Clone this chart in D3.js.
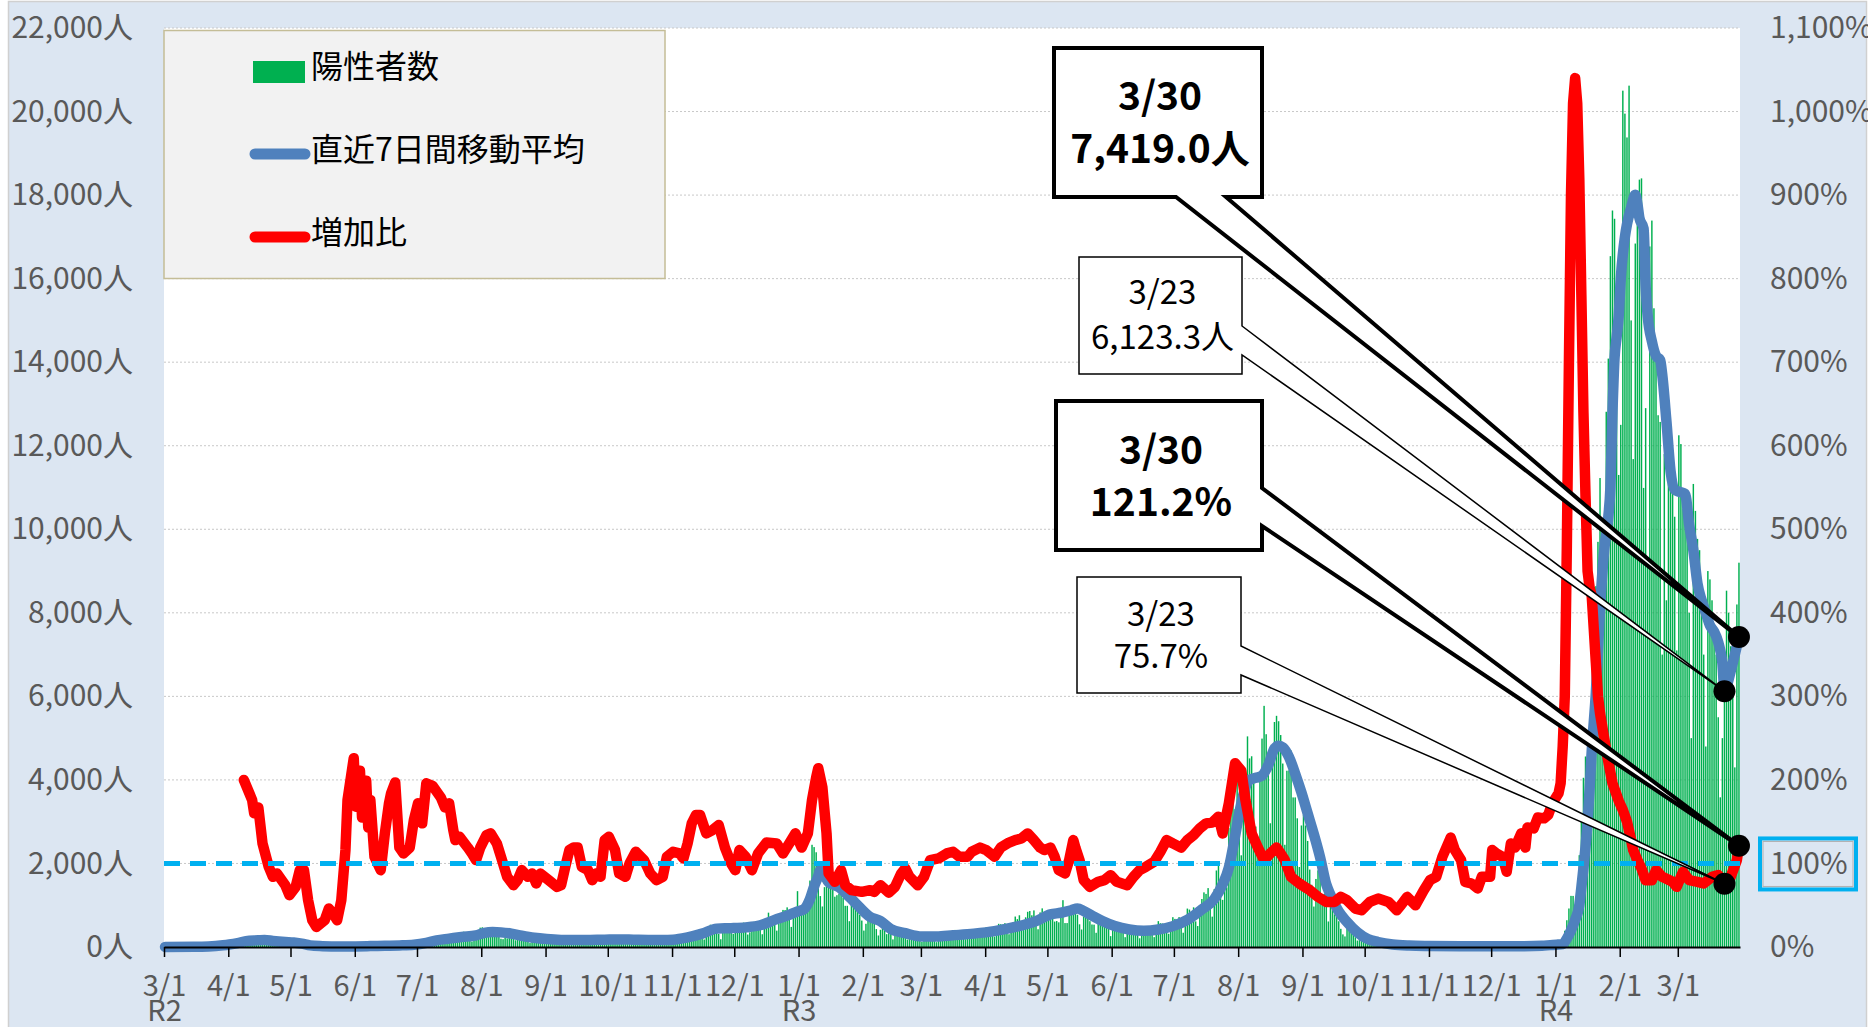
<!doctype html>
<html>
<head>
<meta charset="utf-8">
<script src="https://d3js.org/d3.v7.min.js"></script>
<style>
  body { margin: 0; background: #fff; }
  svg { display: block; font-family: "Liberation Sans Narrow", "Arial Narrow", "Noto Sans CJK JP", sans-serif; }
  .grid line { stroke: #c8c8c8; stroke-width: 1; stroke-dasharray: 2,2; }
  .legend text { font-family: "Noto Sans CJK JP", sans-serif; font-size: 32px; fill: #000; }
  .callout text { fill: #000; text-anchor: middle; dominant-baseline: central; }
</style>
</head>
<body>
<svg width="1868" height="1027"></svg>
<script>
// daily positive counts, 2020-03-01 .. 2022-03-30
var cases2020 = [
  0,1,2,1,8,3,6,2,0,2,7,2,3,5,2,1,3,2,11,1,7,2,16,17,41,47,40,63,68,13,78,
  66,97,89,118,143,83,80,144,181,189,197,166,91,161,127,149,201,181,107,102,123,132,134,161,103,72,39,112,47,46,
  165,160,91,87,58,38,23,39,36,22,15,28,10,30,9,14,5,10,5,5,11,3,2,14,8,10,11,15,22,14,5,
  34,12,34,28,20,26,14,13,12,18,22,25,24,47,48,27,16,41,35,39,35,29,31,55,48,54,57,60,58,54,
  67,107,124,131,111,102,75,75,224,243,206,206,119,143,165,286,293,290,188,168,237,238,366,260,295,239,131,266,250,367,463,
  472,292,258,309,263,360,462,429,331,197,188,222,206,389,385,260,161,207,186,339,258,247,212,95,182,236,250,226,248,148,100,
  170,141,210,211,181,116,80,170,149,276,187,146,146,77,163,163,191,220,218,170,107,88,59,195,270,195,218,78,194,196,
  235,196,207,143,78,176,179,287,186,235,146,78,166,177,284,185,235,124,78,139,150,185,186,203,124,102,158,170,221,218,209,
  116,87,209,122,269,242,294,189,157,293,317,393,374,352,255,180,298,493,534,522,539,391,314,186,401,481,570,561,418,311,
  372,500,533,449,584,480,299,352,572,602,595,621,480,305,460,678,822,664,736,556,392,563,748,888,884,949,708,481,856,944,1337
];
var cases2021 = [
  783,814,816,884,1278,1591,2447,2392,2268,1494,1219,970,1433,1502,2044,1809,1592,1204,1240,1274,1471,1175,986,986,618,1026,973,1064,868,769,633,
  393,556,676,734,577,639,429,276,412,490,434,307,369,371,182,378,445,353,353,327,272,178,275,213,340,270,337,329,
  121,232,316,279,301,237,237,116,290,340,335,304,239,175,181,300,409,323,303,342,256,187,337,420,394,376,430,313,234,364,414,
  475,440,446,355,249,399,555,545,537,570,421,306,510,591,729,667,759,543,405,711,843,861,759,876,635,425,828,925,629,698,
  879,708,708,609,621,591,907,1121,573,573,925,969,1010,854,772,543,419,732,766,843,618,539,535,340,743,689,614,684,539,449,260,
  471,487,508,472,436,351,235,369,440,439,436,467,304,209,337,501,452,453,388,376,236,435,619,570,562,534,386,317,476,714,
  673,660,716,518,342,593,920,896,822,950,614,502,830,1149,1308,1271,1410,1008,727,1387,1832,1979,1359,1128,1763,1429,2848,3177,3865,3300,4058,
  3058,2195,4166,4228,5042,4515,4566,4066,2884,2612,4200,4989,5773,5094,4295,2962,4377,5386,5534,5405,5074,4392,2447,4220,4228,4704,3581,3581,3081,1915,2909,
  3168,2909,2539,1853,1490,968,1629,1834,1675,1242,1273,1067,611,1004,1052,782,862,617,435,302,253,537,531,383,382,235,154,267,248,218,
  200,196,161,87,149,146,138,82,74,60,49,41,77,62,66,66,40,29,36,41,36,26,32,19,17,36,21,23,24,22,9,
  9,29,22,19,17,21,16,9,23,24,20,27,20,6,7,11,17,21,21,20,14,14,10,12,21,12,20,11,11,9,
  18,15,14,21,9,8,16,19,23,20,20,20,11,17,21,22,25,16,16,11,18,31,37,35,47,37,39,39,76,64,78
];
var cases2022 = [
  79,84,103,151,390,641,922,1224,1223,871,962,2198,3124,4051,4561,4172,3126,5185,7377,8638,9699,11227,9468,8503,12813,14086,16538,17631,17433,15895,11300,
  12500,20500,19950,19380,20620,15000,11680,16840,17500,18370,18400,10990,12900,9300,16770,17390,15290,14200,12730,12570,7000,11800,8300,11300,12400,11100,10300,7100,
  12250,12040,10500,10400,9800,8000,5000,11085,10440,9770,9500,8600,7000,4800,9000,8800,8300,7300,7000,5500,3583,5000,7000,8530,8000,7200,6000,4300,8200,9200
];

// 直近7日間移動平均
var avgPoints = [
  ["2020-03-01",3],["2020-03-15",5],["2020-03-22",12],["2020-03-29",40],["2020-04-01",60],["2020-04-05",95],
  ["2020-04-09",140],["2020-04-15",160],["2020-04-18",170],["2020-04-22",145],["2020-04-28",120],["2020-05-02",110],
  ["2020-05-06",80],["2020-05-10",40],["2020-05-16",20],["2020-05-24",9],["2020-06-01",14],["2020-06-08",22],
  ["2020-06-15",30],["2020-06-22",38],["2020-06-29",55],["2020-07-05",100],["2020-07-10",160],["2020-07-16",200],
  ["2020-07-22",240],["2020-07-29",280],["2020-08-02",340],["2020-08-06",360],["2020-08-10",350],["2020-08-15",320],
  ["2020-08-20",270],["2020-08-26",220],["2020-09-01",190],["2020-09-08",170],["2020-09-15",165],["2020-09-22",170],
  ["2020-09-29",175],["2020-10-06",180],["2020-10-13",175],["2020-10-20",170],["2020-10-27",170],["2020-11-01",175],
  ["2020-11-08",230],["2020-11-15",320],["2020-11-22",440],["2020-11-29",450],["2020-12-06",470],["2020-12-13",520],
  ["2020-12-20",650],["2020-12-26",750],["2020-12-31",850],["2021-01-03",900],["2021-01-06",1150],["2021-01-08",1450],
  ["2021-01-10",1700],["2021-01-11",1840],["2021-01-13",1720],["2021-01-15",1550],["2021-01-20",1430],["2021-01-25",1200],
  ["2021-01-28",1050],["2021-02-04",720],["2021-02-09",620],["2021-02-14",430],["2021-02-21",330],["2021-03-01",250],
  ["2021-03-08",250],["2021-03-16",280],["2021-03-26",320],["2021-04-05",380],["2021-04-15",480],["2021-04-25",620],
  ["2021-05-02",780],["2021-05-07",820],["2021-05-12",880],["2021-05-15",920],["2021-05-18",860],["2021-05-22",750],
  ["2021-05-27",620],["2021-06-02",500],["2021-06-09",420],["2021-06-16",390],["2021-06-23",420],["2021-06-30",500],
  ["2021-07-07",650],["2021-07-14",900],["2021-07-20",1150],["2021-07-24",1500],["2021-07-27",1900],["2021-07-30",2650],
  ["2021-08-01",3200],["2021-08-03",3650],["2021-08-06",4000],["2021-08-09",4050],["2021-08-12",4100],["2021-08-15",4350],
  ["2021-08-18",4750],["2021-08-20",4820],["2021-08-22",4780],["2021-08-25",4550],["2021-08-28",4150],["2021-08-31",3700],
  ["2021-09-03",3200],["2021-09-06",2700],["2021-09-09",2150],["2021-09-12",1500],["2021-09-14",1250],["2021-09-18",850],
  ["2021-09-22",600],["2021-09-27",350],["2021-10-02",190],["2021-10-07",120],["2021-10-14",60],["2021-10-22",35],
  ["2021-11-01",25],["2021-11-16",18],["2021-12-01",18],["2021-12-16",20],["2021-12-25",30],["2021-12-29",45],
  ["2022-01-01",55],["2022-01-04",70],["2022-01-06",200],["2022-01-08",400],["2022-01-10",650],["2022-01-12",1000],
  ["2022-01-13",1430],["2022-01-15",2400],["2022-01-16",3000],["2022-01-17",3800],["2022-01-18",4700],["2022-01-20",6100],
  ["2022-01-22",8100],["2022-01-24",9500],["2022-01-26",10300],["2022-01-27",11000],["2022-01-28",12800],["2022-01-29",14100],
  ["2022-01-30",14600],["2022-01-31",15100],["2022-02-01",16000],["2022-02-03",17000],["2022-02-04",17300],["2022-02-06",17700],
  ["2022-02-08",18010],["2022-02-09",17800],["2022-02-10",17450],["2022-02-12",17200],["2022-02-13",15800],["2022-02-14",15100],
  ["2022-02-16",14500],["2022-02-18",14150],["2022-02-20",14050],["2022-02-21",13700],["2022-02-23",12600],["2022-02-25",11400],
  ["2022-02-27",10950],["2022-03-01",10900],["2022-03-04",10850],["2022-03-06",10100],["2022-03-08",9500],["2022-03-10",8700],
  ["2022-03-12",8300],["2022-03-14",8000],["2022-03-16",7700],["2022-03-18",7550],["2022-03-20",7300],["2022-03-21",7100],
  ["2022-03-22",6800],["2022-03-23",6123.3],["2022-03-25",6400],["2022-03-26",6600],["2022-03-28",7000],["2022-03-30",7419.0]
];

// 増加比 (%)
var ratioPoints = [
  ["2020-04-08",200],["2020-04-12",176],["2020-04-13",160],["2020-04-15",167],["2020-04-17",124],["2020-04-20",96],
  ["2020-04-22",84],["2020-04-24",88],["2020-04-28",74],["2020-04-30",62],["2020-05-03",72],["2020-05-05",92],
  ["2020-05-07",92],["2020-05-09",56],["2020-05-11",32],["2020-05-13",24],["2020-05-17",32],["2020-05-19",46],
  ["2020-05-21",40],["2020-05-23",32],["2020-05-25",56],["2020-05-27",116],["2020-05-28",176],["2020-05-31",226],
  ["2020-06-01",168],["2020-06-03",211],["2020-06-04",155],["2020-06-06",199],["2020-06-07",143],["2020-06-08",176],
  ["2020-06-10",108],["2020-06-13",92],["2020-06-15",136],["2020-06-17",172],["2020-06-18",184],["2020-06-20",197],
  ["2020-06-22",119],["2020-06-24",112],["2020-06-27",119],["2020-06-29",152],["2020-07-01",172],["2020-07-03",148],
  ["2020-07-05",196],["2020-07-08",193],["2020-07-12",179],["2020-07-14",167],["2020-07-16",172],["2020-07-18",140],
  ["2020-07-19",128],["2020-07-21",132],["2020-07-25",119],["2020-07-27",112],["2020-07-29",104],["2020-07-31",119],
  ["2020-08-03",134],["2020-08-05",136],["2020-08-08",124],["2020-08-10",108],["2020-08-13",84],["2020-08-16",74],
  ["2020-08-18",80],["2020-08-20",92],["2020-08-23",84],["2020-08-25",88],["2020-08-27",76],["2020-08-29",88],
  ["2020-08-31",84],["2020-09-02",80],["2020-09-06",72],["2020-09-08",74],["2020-09-10",96],["2020-09-12",116],
  ["2020-09-14",119],["2020-09-16",119],["2020-09-18",96],["2020-09-21",92],["2020-09-23",80],["2020-09-25",88],
  ["2020-09-27",84],["2020-09-29",128],["2020-10-01",132],["2020-10-04",116],["2020-10-06",88],["2020-10-09",84],
  ["2020-10-11",100],["2020-10-14",114],["2020-10-18",104],["2020-10-21",88],["2020-10-24",80],["2020-10-27",84],
  ["2020-10-29",108],["2020-11-01",114],["2020-11-04",112],["2020-11-06",106],["2020-11-08",124],["2020-11-10",148],
  ["2020-11-12",158],["2020-11-14",158],["2020-11-17",136],["2020-11-20",140],["2020-11-23",146],["2020-11-26",119],
  ["2020-11-29",100],["2020-12-01",92],["2020-12-03",116],["2020-12-06",108],["2020-12-09",92],["2020-12-12",112],
  ["2020-12-16",125],["2020-12-21",124],["2020-12-24",112],["2020-12-27",124],["2020-12-30",136],["2021-01-02",119],
  ["2021-01-05",136],["2021-01-07",176],["2021-01-09",203],["2021-01-10",214],["2021-01-12",191],["2021-01-14",136],
  ["2021-01-15",88],["2021-01-18",78],["2021-01-21",92],["2021-01-23",74],["2021-01-26",68],["2021-01-31",66],
  ["2021-02-04",68],["2021-02-06",66],["2021-02-09",74],["2021-02-13",65],["2021-02-16",72],["2021-02-19",88],
  ["2021-02-21",94],["2021-02-23",84],["2021-02-27",74],["2021-03-02",84],["2021-03-05",104],["2021-03-09",106],
  ["2021-03-13",112],["2021-03-16",114],["2021-03-19",108],["2021-03-23",108],["2021-03-25",114],["2021-03-29",119],
  ["2021-04-01",116],["2021-04-05",108],["2021-04-08",119],["2021-04-12",125],["2021-04-15",128],["2021-04-18",130],
  ["2021-04-21",136],["2021-04-24",128],["2021-04-27",119],["2021-04-29",116],["2021-05-02",119],["2021-05-04",108],
  ["2021-05-06",92],["2021-05-09",88],["2021-05-11",104],["2021-05-13",128],["2021-05-14",119],["2021-05-16",104],
  ["2021-05-18",80],["2021-05-21",72],["2021-05-25",78],["2021-05-28",80],["2021-05-31",86],["2021-06-03",78],
  ["2021-06-08",74],["2021-06-11",84],["2021-06-14",92],["2021-06-17",96],["2021-06-21",102],["2021-06-24",114],
  ["2021-06-27",128],["2021-06-30",124],["2021-07-04",119],["2021-07-07",128],["2021-07-10",134],["2021-07-13",142],
  ["2021-07-16",148],["2021-07-19",149],["2021-07-22",156],["2021-07-24",136],["2021-07-27",172],["2021-07-30",220],
  ["2021-08-02",211],["2021-08-04",176],["2021-08-07",136],["2021-08-10",119],["2021-08-13",104],["2021-08-16",112],
  ["2021-08-19",119],["2021-08-21",112],["2021-08-23",104],["2021-08-26",84],["2021-08-30",76],["2021-09-04",68],
  ["2021-09-08",60],["2021-09-12",54],["2021-09-16",54],["2021-09-19",60],["2021-09-22",56],["2021-09-26",46],
  ["2021-09-29",44],["2021-10-03",54],["2021-10-07",58],["2021-10-12",54],["2021-10-16",44],["2021-10-18",50],
  ["2021-10-21",60],["2021-10-25",50],["2021-10-29",68],["2021-11-01",80],["2021-11-04",84],["2021-11-07",108],
  ["2021-11-11",131],["2021-11-13",116],["2021-11-16",104],["2021-11-18",78],["2021-11-21",76],["2021-11-24",70],
  ["2021-11-26",84],["2021-11-30",84],["2021-12-01",116],["2021-12-03",112],["2021-12-06",108],["2021-12-08",90],
  ["2021-12-10",124],["2021-12-12",119],["2021-12-15",136],["2021-12-17",119],["2021-12-18",143],["2021-12-21",142],
  ["2021-12-23",155],["2021-12-26",154],["2021-12-28",158],["2021-12-30",172],["2022-01-02",184],["2022-01-03",196],
  ["2022-01-04",240],["2022-01-05",300],["2022-01-06",480],["2022-01-07",700],["2022-01-08",900],["2022-01-09",1010],
  ["2022-01-10",1040],["2022-01-11",1010],["2022-01-12",920],["2022-01-13",780],["2022-01-14",640],["2022-01-15",540],
  ["2022-01-16",450],["2022-01-17",430],["2022-01-18",420],["2022-01-19",380],["2022-01-20",340],["2022-01-21",300],
  ["2022-01-22",280],["2022-01-24",250],["2022-01-25",235],["2022-01-28",196],["2022-01-31",175],["2022-02-02",164],
  ["2022-02-04",150],["2022-02-06",128],["2022-02-07",116],["2022-02-09",104],["2022-02-11",94],["2022-02-13",80],
  ["2022-02-16",80],["2022-02-18",92],["2022-02-21",84],["2022-02-26",78],["2022-02-28",72],["2022-03-03",90],
  ["2022-03-06",80],["2022-03-10",78],["2022-03-13",76],["2022-03-17",84],["2022-03-20",86],["2022-03-23",75.7],
  ["2022-03-26",84],["2022-03-29",104],["2022-03-30",121.2]
];

var leftTicks = [0,2000,4000,6000,8000,10000,12000,14000,16000,18000,20000,22000];
var rightTicks = [0,100,200,300,400,500,600,700,800,900,1000,1100];
var monthTicks = ["2020-03-01","2020-04-01","2020-05-01","2020-06-01","2020-07-01","2020-08-01","2020-09-01",
  "2020-10-01","2020-11-01","2020-12-01","2021-01-01","2021-02-01","2021-03-01","2021-04-01","2021-05-01",
  "2021-06-01","2021-07-01","2021-08-01","2021-09-01","2021-10-01","2021-11-01","2021-12-01","2022-01-01",
  "2022-02-01","2022-03-01"];
var eraLabels = { "2020-03-01": "R2", "2021-01-01": "R3", "2022-01-01": "R4" };
var legendItems = ["陽性者数", "直近7日間移動平均", "増加比"];
var calloutDates = ["2022-03-30", "2022-03-23"];

var FONT = '"Liberation Sans Narrow", "Arial Narrow", "Noto Sans CJK JP", sans-serif';
var parse = d3.utcParse("%Y-%m-%d");
var fmtDay = d3.utcFormat("%-m/%-d");

var cases = cases2020.concat(cases2021, cases2022);
var start = parse("2020-03-01");
var daily = cases.map(function (v, i) { return { date: d3.utcDay.offset(start, i), value: v }; });
var end = d3.utcDay.offset(start, cases.length);

var plotL = 164, plotR = 1740, plotT = 28, plotB = 947;
var x = d3.scaleUtc().domain([start, end]).range([plotL, plotR]);
var step = (plotR - plotL) / cases.length;
var yL = d3.scaleLinear().domain([0, 22000]).range([plotB, plotT]);
var yR = d3.scaleLinear().domain([0, 1100]).range([plotB, plotT]);

var avg = avgPoints.map(function (d) { return { date: parse(d[0]), value: d[1] }; });
var ratio = ratioPoints.map(function (d) { return { date: parse(d[0]), value: d[1] }; });

var svg = d3.select("svg");

// background
svg.append("rect").attr("x", 8.5).attr("y", 1.5).attr("width", 1858).attr("height", 1030)
  .attr("fill", "#dce6f2").attr("stroke", "#d0d0d0").attr("stroke-width", 1.5);
svg.append("rect").attr("x", plotL).attr("y", plotT).attr("width", plotR - plotL).attr("height", plotB - plotT)
  .attr("fill", "#fff");

// grid
svg.append("g").attr("class", "grid")
  .selectAll("line").data(leftTicks.filter(function (d) { return d > 0; })).join("line")
  .attr("x1", plotL).attr("x2", plotR)
  .attr("y1", function (d) { return yL(d); }).attr("y2", function (d) { return yL(d); });

// bars
svg.append("g").selectAll("rect").data(daily).join("rect")
  .attr("x", function (d) { return x(d.date) + step * 0.15; })
  .attr("width", step * 0.7)
  .attr("y", function (d) { return yL(d.value); })
  .attr("height", function (d) { return plotB - yL(d.value); })
  .attr("fill", "#00b050");

var lineAvg = d3.line().x(function (d) { return x(d.date) + step / 2; })
  .y(function (d) { return yL(d.value); }).curve(d3.curveMonotoneX);
var lineRatio = d3.line().x(function (d) { return x(d.date) + step / 2; })
  .y(function (d) { return yR(d.value); });

svg.append("path").datum(avg).attr("d", lineAvg).attr("fill", "none")
  .attr("stroke", "#4f81bd").attr("stroke-width", 10.5).attr("stroke-linejoin", "round").attr("stroke-linecap", "round");
svg.append("path").datum(ratio).attr("d", lineRatio).attr("fill", "none")
  .attr("stroke", "#ff0000").attr("stroke-width", 10.5).attr("stroke-linejoin", "round").attr("stroke-linecap", "round");

// 100% reference line
svg.append("line").attr("x1", plotL).attr("x2", plotR).attr("y1", yR(100)).attr("y2", yR(100))
  .attr("stroke", "#00b0f0").attr("stroke-width", 5).attr("stroke-dasharray", "16,10");

// x axis
var gx = svg.append("g").attr("transform", "translate(0," + plotB + ")")
  .call(d3.axisBottom(x).tickValues(monthTicks.map(parse)).tickSize(10).tickSizeOuter(0)
    .tickFormat(function (d) { return (d.getUTCMonth() + 1) + "/1"; }));
gx.attr("font-family", FONT).attr("font-size", 29);
gx.select(".domain").attr("stroke", "#000").attr("stroke-width", 2);
gx.selectAll(".tick line").attr("stroke", "#000").attr("stroke-width", 1.5);
gx.selectAll(".tick text").attr("y", 49).attr("dy", null).attr("fill", "#595959");
gx.selectAll(".tick").each(function (d) {
  var key = d3.utcFormat("%Y-%m-%d")(d);
  if (eraLabels[key]) {
    d3.select(this).append("text").attr("y", 74).attr("fill", "#595959")
      .attr("text-anchor", "middle").text(eraLabels[key]);
  }
});

// y axes
var gl = svg.append("g").attr("transform", "translate(" + plotL + ",0)")
  .call(d3.axisLeft(yL).tickValues(leftTicks).tickSize(0).tickPadding(31)
    .tickFormat(function (d) { return d3.format(",")(d) + "人"; }));
gl.attr("font-family", FONT).attr("font-size", 30);
gl.select(".domain").remove();
gl.selectAll("text").attr("fill", "#595959");

var gr = svg.append("g").attr("transform", "translate(" + plotR + ",0)")
  .call(d3.axisRight(yR).tickValues(rightTicks).tickSize(0).tickPadding(30)
    .tickFormat(function (d) { return d3.format(",")(d) + "%"; }));
gr.attr("font-family", FONT).attr("font-size", 30);
gr.select(".domain").remove();
gr.selectAll("text").attr("fill", "#595959");

// highlight around 100%
svg.append("rect").attr("x", 1760).attr("y", yR(100) - 25).attr("width", 96).attr("height", 51)
  .attr("fill", "none").attr("stroke", "#00b0f0").attr("stroke-width", 4);
svg.append("rect").attr("x", 1763).attr("y", yR(100) - 22).attr("width", 90).attr("height", 45)
  .attr("fill", "none").attr("stroke", "#b0b0b0").attr("stroke-width", 1);

// legend
var lg = svg.append("g").attr("class", "legend");
lg.append("rect").attr("x", 164).attr("y", 30.5).attr("width", 501).attr("height", 248)
  .attr("fill", "#f2f2f2").attr("stroke", "#c4bd97").attr("stroke-width", 1.5);
lg.append("rect").attr("x", 253).attr("y", 61).attr("width", 52).attr("height", 22).attr("fill", "#00b050");
lg.append("line").attr("x1", 255).attr("x2", 305).attr("y1", 154).attr("y2", 154)
  .attr("stroke", "#4f81bd").attr("stroke-width", 11).attr("stroke-linecap", "round");
lg.append("line").attr("x1", 255).attr("x2", 305).attr("y1", 237).attr("y2", 237)
  .attr("stroke", "#ff0000").attr("stroke-width", 11).attr("stroke-linecap", "round");
lg.selectAll("text").data(legendItems).join("text")
  .attr("x", 311).attr("y", function (d, i) { return [64, 147, 230][i]; })
  .attr("dominant-baseline", "central").text(function (d) { return d; });

// callouts
function findVal(arr, key) {
  var t = +parse(key);
  return arr.find(function (d) { return +d.date === t; });
}
var aLast = findVal(avg, calloutDates[0]), aPrev = findVal(avg, calloutDates[1]);
var rLast = findVal(ratio, calloutDates[0]), rPrev = findVal(ratio, calloutDates[1]);
function tipOf(d, scale) { return [x(d.date) + step / 2, scale(d.value)]; }

var callouts = [
  { box: [1079, 257, 1242, 374], heavy: false, side: "right", a: 326, b: 355, tip: tipOf(aPrev, yL),
    lines: [fmtDay(aPrev.date), d3.format(",.1f")(aPrev.value) + "人"], cy: [290, 335] },
  { box: [1077, 577, 1241, 693], heavy: false, side: "right", a: 646, b: 675, tip: tipOf(rPrev, yR),
    lines: [fmtDay(rPrev.date), d3.format(".1f")(rPrev.value) + "%"], cy: [612, 654] },
  { box: [1054, 48, 1262, 197], heavy: true, side: "bottom", a: 1176, b: 1226, tip: tipOf(aLast, yL),
    lines: [fmtDay(aLast.date), d3.format(",.1f")(aLast.value) + "人"], cy: [93, 146] },
  { box: [1056, 401, 1262, 550], heavy: true, side: "right", a: 488, b: 526, tip: tipOf(rLast, yR),
    lines: [fmtDay(rLast.date), d3.format(".1f")(rLast.value) + "%"], cy: [447, 499] }
];

callouts.forEach(function (c) {
  var b = c.box, p;
  if (c.side === "bottom") {
    p = "M" + b[0] + "," + b[1] + "H" + b[2] + "V" + b[3] + "H" + c.b + "L" + c.tip[0] + "," + c.tip[1] +
        "L" + c.a + "," + b[3] + "H" + b[0] + "Z";
  } else {
    p = "M" + b[0] + "," + b[1] + "H" + b[2] + "V" + c.a + "L" + c.tip[0] + "," + c.tip[1] +
        "L" + b[2] + "," + c.b + "V" + b[3] + "H" + b[0] + "Z";
  }
  var g = svg.append("g").attr("class", "callout");
  g.append("path").attr("d", p).attr("fill", "#fff").attr("stroke", "#000")
    .attr("stroke-width", c.heavy ? 4 : 1.5).attr("stroke-linejoin", "miter");
  var cx = (b[0] + b[2]) / 2 + 2;
  c.lines.forEach(function (t, i) {
    g.append("text").attr("x", cx).attr("y", c.cy[i])
      .attr("font-family", FONT)
      .attr("font-size", c.heavy ? 39 : 33)
      .attr("font-weight", c.heavy ? "bold" : "normal")
      .text(t);
  });
});

// end-point markers
svg.append("g").selectAll("circle").data(callouts).join("circle")
  .attr("cx", function (c) { return c.tip[0]; }).attr("cy", function (c) { return c.tip[1]; })
  .attr("r", 11).attr("fill", "#000");
</script>
</body>
</html>
